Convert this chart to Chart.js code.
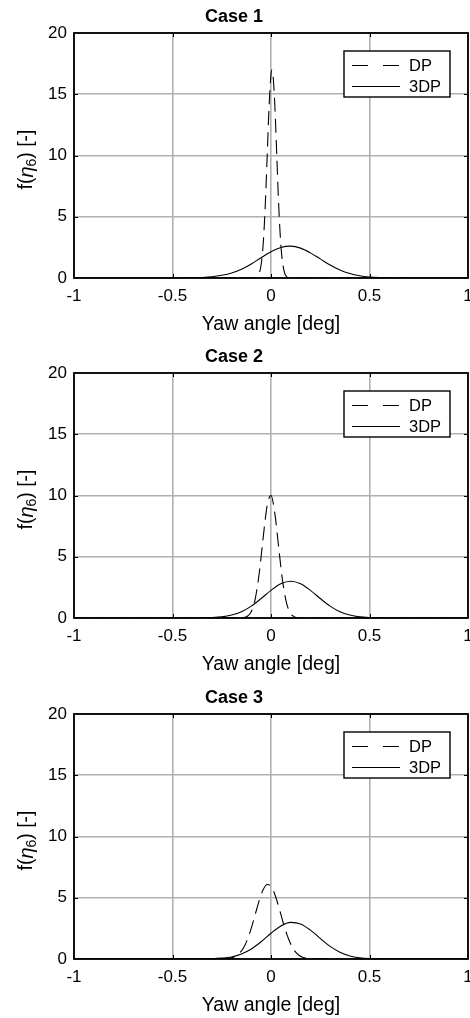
<!DOCTYPE html>
<html>
<head>
<meta charset="utf-8">
<title>Yaw angle PDFs</title>
<script src="https://cdn.jsdelivr.net/npm/chart.js@4.4.0/dist/chart.umd.min.js"></script>
<style>
  body { margin: 0; background: #fff; width: 470px; height: 1018px; overflow: hidden; position: relative; }
  .panel { position: absolute; left: 0; width: 470px; height: 337px; }
</style>
</head>
<body>
<div class="panel" style="top:0px"><canvas id="case1" width="470" height="337"></canvas></div>
<div class="panel" style="top:340px"><canvas id="case2" width="470" height="337"></canvas></div>
<div class="panel" style="top:681px"><canvas id="case3" width="470" height="337"></canvas></div>
<script>
/* Three stacked PDF panels: DP (dashed) vs 3DP (solid) yaw angle */

// ── Axis ticks / labels ──
var xTicks = [-1, -0.5, 0, 0.5, 1];
var yTicks = [0, 5, 10, 15, 20];
var caseTitles = ['Case 1', 'Case 2', 'Case 3'];
var seriesLabels = ['DP', '3DP'];
var xAxisTitle = 'Yaw angle [deg]';

// ── Case 1 ──
var case1DpX = [-1, -0.1, -0.08, -0.07, -0.06, -0.05, -0.04, -0.03, -0.02, -0.01, 0, 0.005, 0.01, 0.02, 0.03, 0.04, 0.05, 0.06, 0.07, 0.08, 0.09, 0.11, 1];
var case1DpY = [0, 0, 0.02, 0.1, 0.37, 1.1, 2.7, 5.6, 9.7, 13.9, 16.6, 17, 16.6, 13.9, 9.7, 5.6, 2.7, 1.1, 0.37, 0.1, 0.02, 0, 0];
var case1SolidX = [-1, -0.5, -0.4, -0.35, -0.3, -0.25, -0.2, -0.15, -0.1, -0.05, 0, 0.05, 0.1, 0.15, 0.2, 0.25, 0.3, 0.35, 0.4, 0.45, 0.5, 0.55, 0.6, 0.7, 1];
var case1SolidY = [0, 0, 0.01, 0.04, 0.1, 0.22, 0.41, 0.72, 1.15, 1.66, 2.14, 2.49, 2.6, 2.44, 2.05, 1.56, 1.06, 0.65, 0.36, 0.18, 0.08, 0.03, 0.01, 0, 0];

// ── Case 2 ──
var case2DpX = [-1, -0.16, -0.14, -0.12, -0.1, -0.08, -0.06, -0.04, -0.02, 0, 0.02, 0.04, 0.06, 0.08, 0.1, 0.12, 0.14, 0.16, 1];
var case2DpY = [0, 0.01, 0.03, 0.14, 0.53, 1.57, 3.62, 6.52, 9.14, 10, 8.48, 5.61, 2.89, 1.16, 0.36, 0.09, 0.02, 0, 0];
var case2SolidX = [-1, -0.4, -0.35, -0.3, -0.25, -0.2, -0.15, -0.1, -0.05, 0, 0.05, 0.1, 0.15, 0.2, 0.25, 0.3, 0.35, 0.4, 0.45, 0.5, 0.55, 0.6, 1];
var case2SolidY = [0, 0, 0.01, 0.03, 0.09, 0.24, 0.51, 0.97, 1.59, 2.26, 2.8, 3.0, 2.8, 2.26, 1.59, 0.97, 0.51, 0.24, 0.09, 0.03, 0.01, 0, 0];

// ── Case 3 ──
var case3DpX = [-1, -0.25, -0.22, -0.2, -0.18, -0.16, -0.14, -0.12, -0.1, -0.08, -0.06, -0.04, -0.02, 0, 0.02, 0.04, 0.06, 0.08, 0.1, 0.12, 0.14, 0.16, 0.18, 0.2, 0.22, 1];
var case3DpY = [0, 0.01, 0.04, 0.09, 0.22, 0.47, 0.9, 1.58, 2.52, 3.64, 4.77, 5.65, 6.08, 5.93, 5.25, 4.22, 3.07, 2.03, 1.22, 0.66, 0.33, 0.15, 0.06, 0.02, 0.01, 0];
var case3SolidX = [-1, -0.4, -0.35, -0.3, -0.25, -0.2, -0.15, -0.1, -0.05, 0, 0.05, 0.1, 0.15, 0.2, 0.25, 0.3, 0.35, 0.4, 0.45, 0.5, 0.55, 0.6, 1];
var case3SolidY = [0, 0, 0.01, 0.02, 0.07, 0.17, 0.41, 0.82, 1.41, 2.1, 2.7, 2.99, 2.86, 2.36, 1.68, 1.03, 0.55, 0.25, 0.1, 0.03, 0.01, 0, 0];

(function() {
  'use strict';

  var FONT = "'Liberation Sans', Arial, Helvetica, sans-serif";
  var DASH = [14, 7];
  var LEGEND_DASH = [16, 15];
  var TICK_LEN = 4;
  var GRID = '#b0b0b0';

  Chart.defaults.font.family = FONT;
  Chart.defaults.color = '#000';

  function toPoints(xs, ys) {
    var pts = [];
    for (var i = 0; i < xs.length; i++) pts.push({ x: xs[i], y: ys[i] });
    return pts;
  }

  // ── Box, inward ticks, legend and y label (MATLAB look) ──
  var matlabFrame = {
    id: 'matlabFrame',
    afterDatasetsDraw: function(chart) {
      var ctx = chart.ctx;
      var a = chart.chartArea;
      var sx = chart.scales.x;
      var sy = chart.scales.y;
      var i, p;

      ctx.save();
      ctx.strokeStyle = '#000';
      ctx.lineWidth = 1;
      ctx.beginPath();
      for (i = 1; i < xTicks.length - 1; i++) {
        p = Math.round(sx.getPixelForValue(xTicks[i])) + 0.5;
        ctx.moveTo(p, a.bottom); ctx.lineTo(p, a.bottom - TICK_LEN);
        ctx.moveTo(p, a.top); ctx.lineTo(p, a.top + TICK_LEN);
      }
      for (i = 1; i < yTicks.length - 1; i++) {
        p = Math.round(sy.getPixelForValue(yTicks[i])) + 0.5;
        ctx.moveTo(a.left, p); ctx.lineTo(a.left + TICK_LEN, p);
        ctx.moveTo(a.right, p); ctx.lineTo(a.right - TICK_LEN, p);
      }
      ctx.stroke();

      ctx.lineWidth = 1.8;
      ctx.strokeRect(a.left, a.top, a.right - a.left, a.bottom - a.top);

      // legend
      var lx = a.right - 124, ly = a.top + 18, lw = 106, lh = 46;
      ctx.fillStyle = '#fff';
      ctx.fillRect(lx, ly, lw, lh);
      ctx.lineWidth = 1.4;
      ctx.strokeRect(lx, ly, lw, lh);
      ctx.font = '16.5px ' + FONT;
      ctx.textBaseline = 'middle';
      ctx.textAlign = 'left';
      ctx.fillStyle = '#000';
      var ds = chart.data.datasets;
      for (i = 0; i < ds.length; i++) {
        var ry = ly + 14 + i * 21;
        ctx.lineWidth = 1;
        ctx.setLineDash(ds[i].borderDash ? LEGEND_DASH : []);
        ctx.beginPath();
        ctx.moveTo(lx + 8, ry + 0.5);
        ctx.lineTo(lx + 56, ry + 0.5);
        ctx.stroke();
        ctx.setLineDash([]);
        ctx.fillText(ds[i].label, lx + 65, ry + 1);
      }

      // y label: f(η6) [-]
      var parts = [
        { t: 'f(', f: '19.5px ' + FONT, dy: 0 },
        { t: 'η', f: 'italic 20px ' + FONT, dy: 0 },
        { t: '6', f: '14px ' + FONT, dy: 5 },
        { t: ') [-]', f: '19.5px ' + FONT, dy: 0 }
      ];
      var total = 0;
      for (i = 0; i < parts.length; i++) {
        ctx.font = parts[i].f;
        parts[i].w = ctx.measureText(parts[i].t).width;
        total += parts[i].w;
      }
      ctx.translate(27, (a.top + a.bottom) / 2 + 4);
      ctx.rotate(-Math.PI / 2);
      var cx = -total / 2;
      for (i = 0; i < parts.length; i++) {
        ctx.font = parts[i].f;
        ctx.fillText(parts[i].t, cx, parts[i].dy);
        cx += parts[i].w;
      }
      ctx.restore();
    }
  };

  // ── Panel builder ──
  function renderPanel(id, title, dpX, dpY, solidX, solidY) {
    var el = document.getElementById(id);
    return new Chart(el, {
      type: 'line',
      data: {
        datasets: [
          {
            label: seriesLabels[0],
            data: toPoints(dpX, dpY),
            borderColor: '#000',
            borderWidth: 1.1,
            borderDash: DASH,
            pointRadius: 0,
            cubicInterpolationMode: 'monotone',
            fill: false
          },
          {
            label: seriesLabels[1],
            data: toPoints(solidX, solidY),
            borderColor: '#000',
            borderWidth: 1.1,
            pointRadius: 0,
            cubicInterpolationMode: 'monotone',
            fill: false
          }
        ]
      },
      options: {
        responsive: false,
        animation: false,
        devicePixelRatio: 1,
        layout: { padding: { left: 0, right: 2, top: 0, bottom: 0 } },
        scales: {
          x: {
            type: 'linear',
            min: -1,
            max: 1,
            afterBuildTicks: function(s) {
              s.ticks = xTicks.map(function(v) { return { value: v }; });
            },
            afterFit: function(s) {
              s.height = 59;
              s.paddingLeft = 0;
              s.paddingRight = 0;
            },
            ticks: {
              padding: 8,
              maxRotation: 0,
              font: { size: 17 },
              callback: function(v) { return String(v); }
            },
            grid: { color: GRID, lineWidth: 1.6, drawTicks: false },
            border: { display: false },
            title: { display: true, text: xAxisTitle, font: { size: 19.5 }, padding: { top: 0, bottom: 1 } }
          },
          y: {
            min: 0,
            max: 20,
            afterBuildTicks: function(s) {
              s.ticks = yTicks.map(function(v) { return { value: v }; });
            },
            afterFit: function(s) {
              s.width = 74;
              s.paddingTop = 0;
              s.paddingBottom = 0;
            },
            ticks: { padding: 7, font: { size: 17 } },
            grid: { color: GRID, lineWidth: 1.6, drawTicks: false },
            border: { display: false }
          }
        },
        plugins: {
          legend: { display: false },
          tooltip: { enabled: false },
          title: {
            display: true,
            text: title,
            font: { size: 18, weight: 'bold', lineHeight: '20px' },
            padding: { top: 7, bottom: 6 }
          }
        }
      },
      plugins: [matlabFrame]
    });
  }

  // ── Init ──
  renderPanel('case1', caseTitles[0], case1DpX, case1DpY, case1SolidX, case1SolidY);
  renderPanel('case2', caseTitles[1], case2DpX, case2DpY, case2SolidX, case2SolidY);
  renderPanel('case3', caseTitles[2], case3DpX, case3DpY, case3SolidX, case3SolidY);

})();
</script>
</body>
</html>
